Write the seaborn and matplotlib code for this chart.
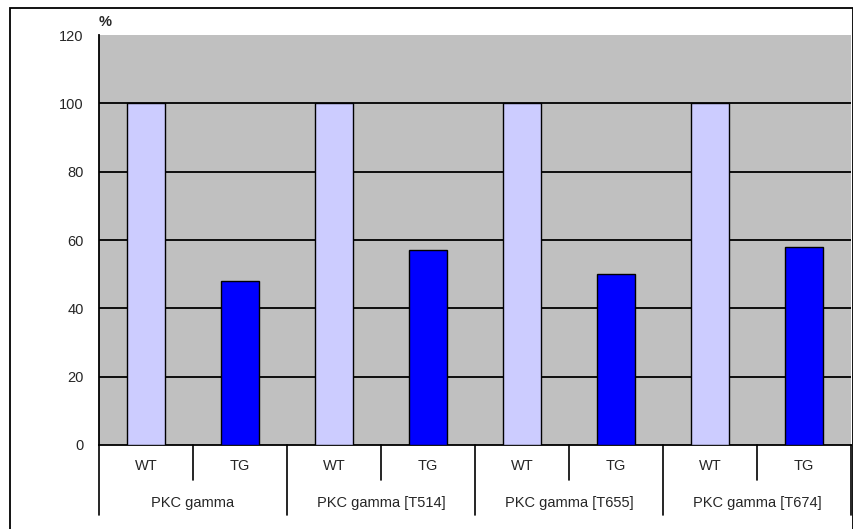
import matplotlib
matplotlib.use('Agg')
import matplotlib.pyplot as plt
import matplotlib.transforms as mtransforms
from matplotlib.patches import Rectangle
import seaborn as sns
import pandas as pd

# data
genes = ['PKC gamma', 'PKC gamma [T514]', 'PKC gamma [T655]', 'PKC gamma [T674]']
conditions = ['WT', 'TG']
wt_values = [100, 100, 100, 100]
tg_values = [48, 57, 50, 58]
y_ticks = [0, 20, 40, 60, 80, 100, 120]

rows = []
for g, wt, tg in zip(genes, wt_values, tg_values):
    rows.append({'slot': g + '|WT', 'gene': g, 'condition': 'WT', 'value': wt})
    rows.append({'slot': g + '|TG', 'gene': g, 'condition': 'TG', 'value': tg})
df = pd.DataFrame(rows)

sns.set_style('white')
plt.rcParams['font.family'] = ['Liberation Sans', 'DejaVu Sans']

fig = plt.figure(figsize=(8.54, 5.29), dpi=100)
ax = fig.add_axes([0.1159, 0.1588, 0.8806, 0.775])

sns.barplot(data=df, x='slot', y='value', hue='condition', order=df['slot'],
            palette={'WT': '#CCCCFF', 'TG': '#0000FF'}, dodge=False, width=0.4,
            saturation=1, edgecolor='black', linewidth=1.0, legend=False, ax=ax, zorder=3)

ax.set_facecolor('#C0C0C0')
ax.set_ylim(0, 120)
ax.set_xlim(-0.5, len(df) - 0.5)
ax.set_yticks(y_ticks)
ax.set_yticklabels([str(t) for t in y_ticks], fontsize=10.5)
ax.tick_params(axis='y', direction='out', length=5, width=1, color='black', pad=6)
ax.tick_params(axis='x', bottom=False, labelbottom=False)
ax.set_xlabel('')
ax.set_ylabel('')
for t in y_ticks[1:-1]:
    ax.axhline(t, color='black', linewidth=1.3, zorder=1)
for s in ['top', 'right']:
    ax.spines[s].set_visible(False)
ax.spines['left'].set_color('black')
ax.spines['left'].set_linewidth(1.3)
ax.spines['bottom'].set_color('black')
ax.spines['bottom'].set_linewidth(1.3)

ax.text(0.0, 1.015, '%', transform=ax.transAxes, ha='left', va='bottom',
        fontsize=10.5, fontweight='bold')

# two-level category axis
trans = mtransforms.blended_transform_factory(ax.transData, ax.transAxes)
n = len(df)
for i, cond in enumerate(df['condition']):
    ax.text(i, -0.051, cond, transform=trans, ha='center', va='center', fontsize=10.5)
for k, g in enumerate(genes):
    ax.text(2 * k + 0.5, -0.141, g, transform=trans, ha='center', va='center', fontsize=10.5)
for i in range(n + 1):
    x = i - 0.5
    if i % 2 == 0:
        ax.plot([x, x], [0, -0.171], transform=trans, color='black', linewidth=1.2, clip_on=False)
    else:
        ax.plot([x, x], [0, -0.085], transform=trans, color='black', linewidth=1.2, clip_on=False)

# outer chart frame
fig.patches.append(Rectangle((10 / 854, -0.05), 843 / 854, 1.05 - 8 / 529,
                             transform=fig.transFigure, fill=False,
                             edgecolor='black', linewidth=1.3))

fig.savefig('out.png', dpi=100)
